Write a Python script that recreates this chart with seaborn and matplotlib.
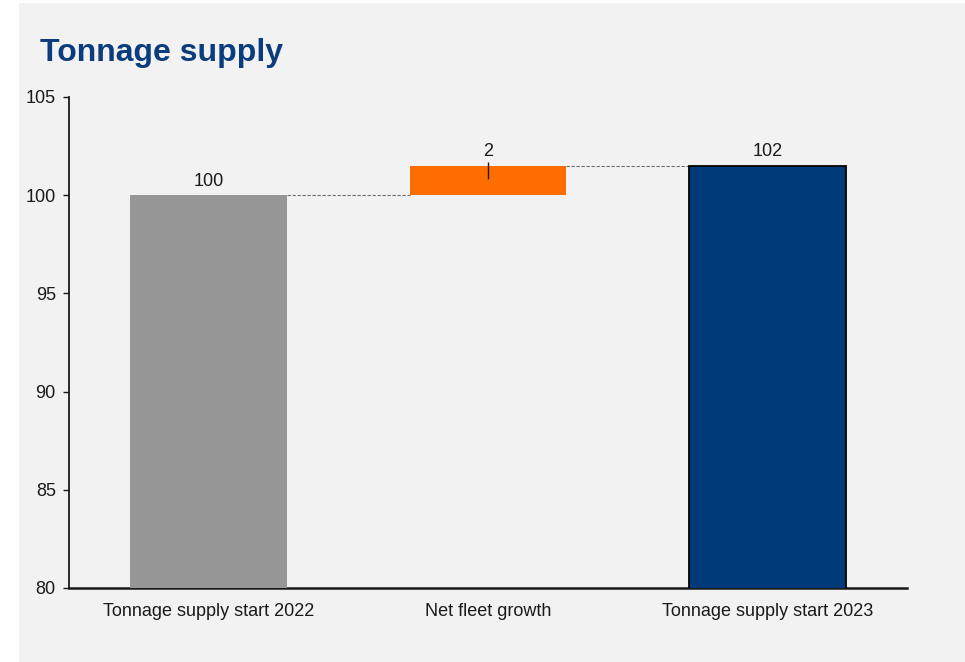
import matplotlib
matplotlib.use("Agg")
import matplotlib.pyplot as plt
from matplotlib.patches import Rectangle
import seaborn as sns
import pandas as pd

# ---- data ----
categories = ["Tonnage supply start 2022", "Net fleet growth", "Tonnage supply start 2023"]
bar_bottoms = [0, 100, 0]
bar_heights = [100, 1.5, 101.5]
bar_labels = ["100", "2", "102"]
bar_colors = ["#969696", "#ff6d00", "#003a78"]
bar_edges = ["none", "none", "black"]
yticks = [80, 85, 90, 95, 100, 105]

sns.set_theme(style="white")
plt.rcParams["font.family"] = ["Liberation Sans", "DejaVu Sans"]

fig = plt.figure(figsize=(9.65, 6.62), dpi=100)
fig.patch.set_facecolor("white")
bg = Rectangle((19 / 965, 0), 1 - 19 / 965, (662 - 3) / 662,
               transform=fig.transFigure, facecolor="#f2f2f2",
               edgecolor="none", zorder=-10)
fig.patches.append(bg)

ax = fig.add_axes([69 / 965, 74 / 662, (907 - 69) / 965, (588 - 97) / 662])
ax.set_zorder(5)
ax.set_facecolor("none")

width = 0.56
for i, cat in enumerate(categories):
    df = pd.DataFrame({"cat": [cat], "val": [bar_heights[i]]})
    sns.barplot(data=df, x="cat", y="val", order=categories, color=bar_colors[i],
                width=width, bottom=bar_bottoms[i], errorbar=None, saturation=1,
                edgecolor=bar_edges[i], linewidth=1.3 if bar_edges[i] != "none" else 0,
                ax=ax, zorder=3)

# labels
for i, lab in enumerate(bar_labels):
    top = bar_bottoms[i] + bar_heights[i]
    ax.annotate(lab, (i, top), xytext=(0, 4), textcoords="offset points",
                ha="center", va="bottom", fontsize=13, color="#1a1a1a")

# connectors
for i in range(len(categories) - 1):
    level = bar_bottoms[i] + bar_heights[i]
    ax.hlines(level, i + width / 2, i + 1 - width / 2, colors="#6e6e6e",
              linestyles=(0, (3, 1.5)), linewidth=0.8, zorder=2)

# small marker line inside the change bar
ax.vlines(1, bar_bottoms[1] + 0.8, bar_bottoms[1] + 1.7, colors="#1a1a1a", linewidth=1, zorder=4)

ax.set_xlim(-0.5, 2.5)
ax.set_ylim(80, 105)
ax.set_yticks(yticks)
ax.set_yticklabels([str(t) for t in yticks])
ax.set_xlabel("")
ax.set_ylabel("")
for s in ["top", "right"]:
    ax.spines[s].set_visible(False)
ax.spines["left"].set_color("#1a1a1a")
ax.spines["left"].set_linewidth(1.3)
ax.spines["bottom"].set_color("#1a1a1a")
ax.spines["bottom"].set_linewidth(1.8)
ax.tick_params(axis="y", which="both", left=True, length=4.5, width=1, color="#1a1a1a",
               labelsize=13, labelcolor="#1a1a1a", pad=5)
ax.tick_params(axis="x", bottom=False, labelsize=13, labelcolor="#1a1a1a", pad=5)
ax.grid(False)

fig.text(40 / 965, (662 - 61) / 662, "Tonnage supply", fontsize=23, fontweight="bold",
         color="#0b3c7d", ha="left", va="baseline")

fig.savefig("out.png", dpi=100)
